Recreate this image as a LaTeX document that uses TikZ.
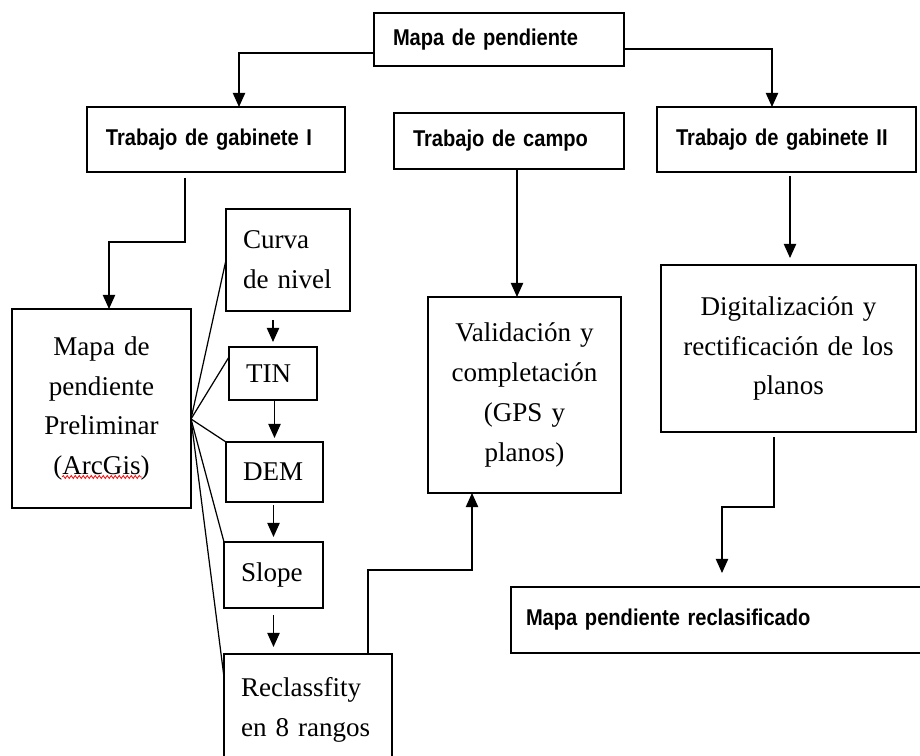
\documentclass[tikz,border=0pt]{standalone}
\usepackage{fontspec}
\setmainfont{Liberation Serif}
\newfontfamily\hdfont[FakeStretch=0.88]{Liberation Sans}
\usetikzlibrary{arrows.meta,decorations.pathmorphing}

\begin{document}
\begin{tikzpicture}[x=0.2mm,y=-0.2mm,>={Triangle[width=7pt,length=8pt]},line width=0.7pt]
\tikzstyle{hbox}=[draw,outer sep=0pt,inner xsep=3.8mm,inner ysep=2pt,align=left,font=\hdfont\bfseries\fontsize{13}{15}\selectfont]%
\tikzstyle{sbox}=[draw,outer sep=0pt,inner xsep=3.4mm,inner ysep=2pt,align=left,font=\fontsize{15.4}{22.7}\selectfont]%
\tikzstyle{cbox}=[draw,outer sep=0pt,inner xsep=1.5mm,inner ysep=2pt,align=center,font=\fontsize{15.4}{22.7}\selectfont]%
\useasboundingbox (0,0) rectangle (920,756);

  \node (mapa) at (499,39.5) [hbox,text width=42.4mm,minimum height=10.6mm] {Mapa de pendiente};
  \node (gab1) at (216,139.5) [hbox,text width=44mm,minimum height=13mm] {Trabajo de gabinete I};
  \node (campo) at (509,141) [hbox,text width=38.4mm,minimum height=11.2mm] {Trabajo de campo};
  \node (gab2) at (786.5,139.5) [hbox,text width=44.2mm,minimum height=13mm] {Trabajo de gabinete II};

  \node (prelim) at (101.5,408.5) [cbox,text width=32.8mm,minimum height=39.8mm] {Mapa de\\pendiente\\Preliminar\\(ArcGis)};
  \node (curva) at (288,260) [sbox,text width=18mm,minimum height=20.4mm] {Curva\\de nivel};
  \node (tin) at (273,373.5) [sbox,text width=10.8mm,minimum height=10.6mm] {TIN};
  \node (dem) at (274.5,472) [sbox,text width=12.6mm,minimum height=12mm] {DEM};
  \node (slope) at (273.5,575) [sbox,text width=13mm,minimum height=13.2mm] {Slope};
  \node (reclass) at (308,710) [sbox,text width=26.8mm,minimum height=22.4mm] {Reclassfity\\en 8 rangos};

  \node (valid) at (524.5,395) [cbox,text width=35.6mm,minimum height=39.2mm] {Validación y\\completación\\(GPS y\\planos)};
  \node (digit) at (788.5,348.5) [cbox,text width=48mm,minimum height=33.4mm] {Digitalización y\\rectificación de los\\planos};
  \node (reclasif) at (718,620) [hbox,inner xsep=3mm,text width=76.8mm,minimum height=13.2mm] {Mapa pendiente reclasificado};

  % spell-check mark
  \draw [red,line width=0.4pt,decorate,decoration={snake,amplitude=0.3mm,segment length=0.8mm}] (62,477) -- (142,477);

  \draw [->] ([yshift=-2.7mm]mapa.west) -| ([xshift=4.6mm]gab1.north);
  \draw [->] ([yshift=-1.9mm]mapa.east) -| ([xshift=-2.9mm]gab2.north);
  \draw [->] ([xshift=-6.2mm,yshift=-1.2mm]gab1.south) -- ++(0,64) -| ([xshift=1.5mm]prelim.north);
  \draw [->] ([xshift=1.6mm]campo.south) -- ++(0,128);
  \draw [->] ([xshift=0.7mm,yshift=-0.8mm]gab2.south) -- ++(0,82);
  \draw [->] ([xshift=-2.9mm,yshift=-1mm]digit.south) -- ++(0,70) -| ([xshift=0.8mm,yshift=2.8mm]reclasif.north);
  \draw [->] ([xshift=12mm]reclass.north) -- ++(0,-84) -| ([xshift=-10.5mm]valid.south);

  \draw [->,shorten <=1.8mm,shorten >=1mm] (tin.north |- curva.south) -- (tin.north);
  \draw [->,shorten >=0.8mm] (dem.north |- tin.south) -- (dem.north);
  \draw [->,shorten <=0.6mm,shorten >=1mm] (slope.north |- dem.south) -- (slope.north);
  \draw [->,shorten <=1.4mm,shorten >=1.4mm] (slope.south) -- (slope.south |- reclass.north);

  \coordinate (fan) at ([yshift=-2.1mm]prelim.east);
  \draw (fan) -- (curva.west);
  \draw (fan) -- ([yshift=-2mm]tin.north west);
  \draw (fan) -- (dem.north west);
  \draw (fan) -- (slope.north west);
  \draw (fan) -- ([yshift=-4.6mm]reclass.north west);

\end{tikzpicture}
\end{document}
